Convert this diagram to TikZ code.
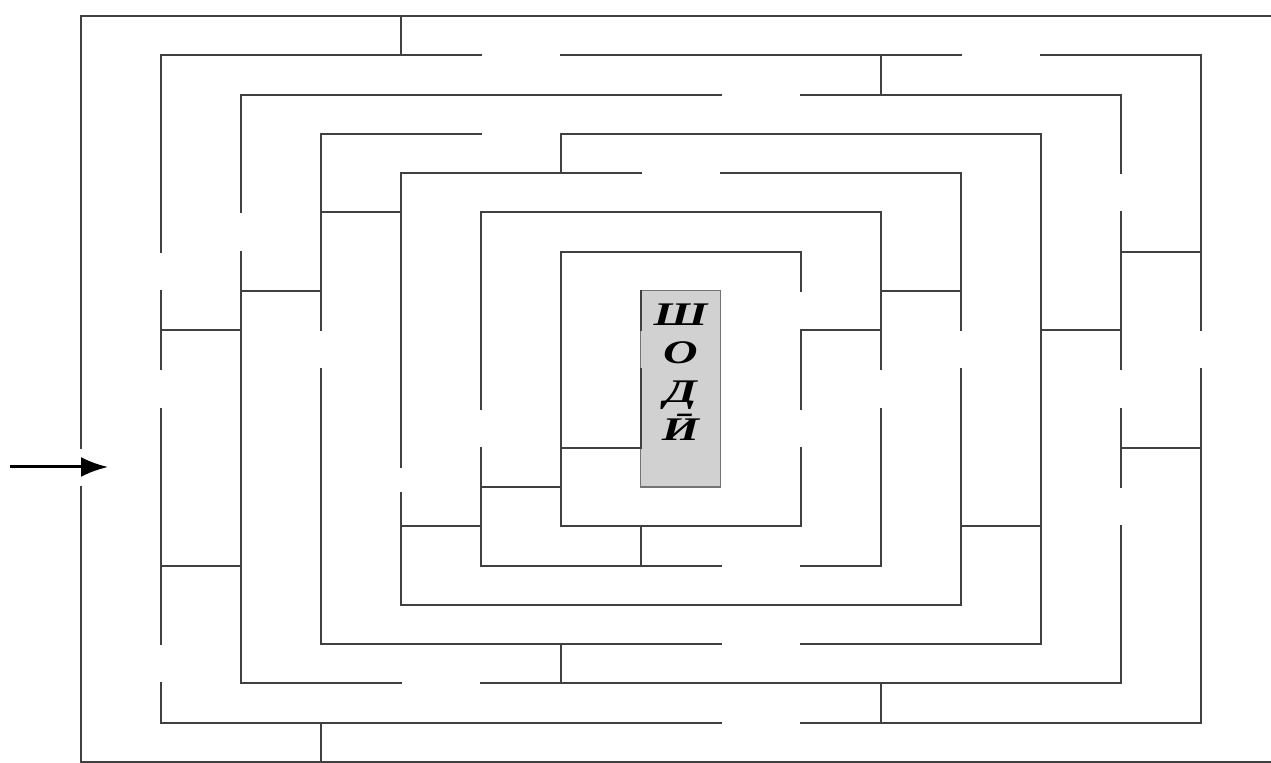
\documentclass[tikz,border=0pt]{standalone}
\usepackage{fontspec}
\newfontfamily\mazefont{Liberation Serif}
\usetikzlibrary{arrows.meta}
\begin{document}
\begin{tikzpicture}[x=40pt,y=-19.625pt,wall/.style={line width=1pt,black!75,line cap=rect}]
\useasboundingbox (-1.00625,-0.4076) rectangle (14.88125,19.0064);
% centre box
\draw[black!55,fill=black!18,line width=0.7pt] (7,7) rectangle (8,12);
\node[font=\mazefont\bfseries\itshape\fontsize{16.5}{19.2}\selectfont,align=center,
  xscale=1.45,transform shape] (goal) at (7.5,9.07) {Ш\\О\\Д\\Ӣ};
% horizontal walls: row/from/to
\foreach \j/\a/\b in {0/0/14.95,1/1/5,1/6/11,1/12/14,2/2/8,2/9/13,3/3/5,3/6/12,4/4/7,4/8/11,
  5/5/10,5/3/4,6/6/9,6/13/14,7/2/3,7/10/11,8/1/2,8/9/10,8/12/13,11/6/7,11/13/14,12/5/6,
  13/6/9,13/4/5,13/11/12,14/5/8,14/9/10,14/1/2,15/4/11,16/3/8,16/9/12,17/2/4,17/5/13,
  18/1/8,18/9/14,19/0/14.95}
  {\draw[wall] (\a,\j)--(\b,\j);}
% vertical walls: column/from/to
\foreach \i/\a/\b in {0/0/11,0/12/19,1/1/6,1/7/9,1/10/16,1/17/18,2/2/5,2/6/17,3/3/8,3/9/16,3/18/19,
  4/0/1,4/4/11.5,4/12.15/15,5/5/10,5/11/14,6/3/4,6/6/13,6/16/17,7/7/8,7/9/11,7/13/14,
  9/6/7,9/8/10,9/11/13,10/1/2,10/5/9,10/10/14,10/17/18,11/4/8,11/9/15,12/3/16,
  13/2/4,13/5/9,13/10/12,13/13/17,14/1/8,14/9/18}
  {\draw[wall] (\i,\a)--(\i,\b);}
% way in
\coordinate (start) at (-0.88,11.49);
\coordinate (entry) at (0.344,11.49);
\draw[-{Latex[length=13.5pt,width=10pt]},line width=1.5pt] (start)--(entry);
\end{tikzpicture}
\end{document}
